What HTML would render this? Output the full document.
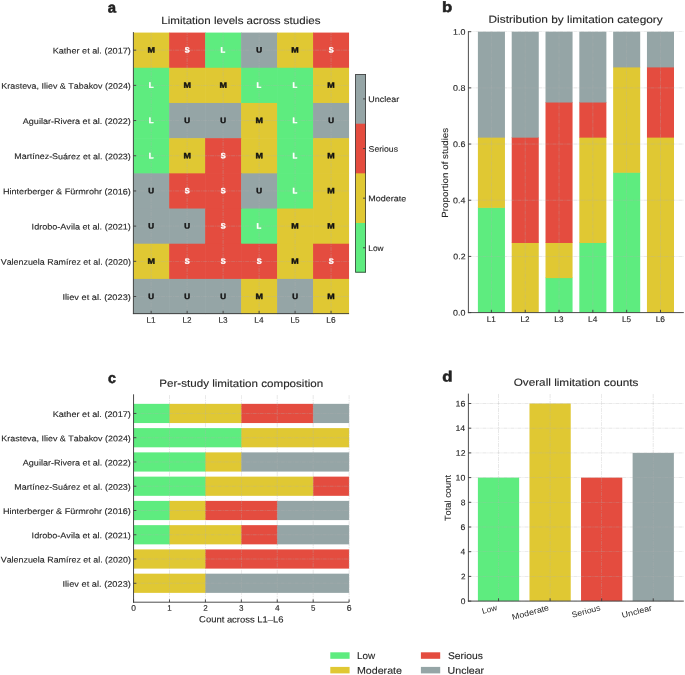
<!DOCTYPE html>
<html><head><meta charset="utf-8"><style>
html,body{margin:0;padding:0;background:#fff;}
svg{display:block;font-family:"Liberation Sans",sans-serif;will-change:transform;font-kerning:none;}
</style></head><body>
<svg width="685" height="675" viewBox="0 0 685 675">
<rect width="685" height="675" fill="#fff"/>
<rect x="133.17" y="32.58" width="36.58" height="35.79" fill="#e0c833"/>
<rect x="169.15" y="32.58" width="36.58" height="35.79" fill="#e44c3f"/>
<rect x="205.13" y="32.58" width="36.58" height="35.79" fill="#5eec7f"/>
<rect x="241.11" y="32.58" width="36.58" height="35.79" fill="#95a5a6"/>
<rect x="277.09" y="32.58" width="36.58" height="35.79" fill="#e0c833"/>
<rect x="313.07" y="32.58" width="35.98" height="35.79" fill="#e44c3f"/>
<rect x="133.17" y="67.77" width="36.58" height="35.79" fill="#5eec7f"/>
<rect x="169.15" y="67.77" width="36.58" height="35.79" fill="#e0c833"/>
<rect x="205.13" y="67.77" width="36.58" height="35.79" fill="#e0c833"/>
<rect x="241.11" y="67.77" width="36.58" height="35.79" fill="#5eec7f"/>
<rect x="277.09" y="67.77" width="36.58" height="35.79" fill="#5eec7f"/>
<rect x="313.07" y="67.77" width="35.98" height="35.79" fill="#e0c833"/>
<rect x="133.17" y="102.96" width="36.58" height="35.79" fill="#5eec7f"/>
<rect x="169.15" y="102.96" width="36.58" height="35.79" fill="#95a5a6"/>
<rect x="205.13" y="102.96" width="36.58" height="35.79" fill="#95a5a6"/>
<rect x="241.11" y="102.96" width="36.58" height="35.79" fill="#e0c833"/>
<rect x="277.09" y="102.96" width="36.58" height="35.79" fill="#5eec7f"/>
<rect x="313.07" y="102.96" width="35.98" height="35.79" fill="#95a5a6"/>
<rect x="133.17" y="138.15" width="36.58" height="35.79" fill="#5eec7f"/>
<rect x="169.15" y="138.15" width="36.58" height="35.79" fill="#e0c833"/>
<rect x="205.13" y="138.15" width="36.58" height="35.79" fill="#e44c3f"/>
<rect x="241.11" y="138.15" width="36.58" height="35.79" fill="#e0c833"/>
<rect x="277.09" y="138.15" width="36.58" height="35.79" fill="#5eec7f"/>
<rect x="313.07" y="138.15" width="35.98" height="35.79" fill="#e0c833"/>
<rect x="133.17" y="173.34" width="36.58" height="35.79" fill="#95a5a6"/>
<rect x="169.15" y="173.34" width="36.58" height="35.79" fill="#e44c3f"/>
<rect x="205.13" y="173.34" width="36.58" height="35.79" fill="#e44c3f"/>
<rect x="241.11" y="173.34" width="36.58" height="35.79" fill="#95a5a6"/>
<rect x="277.09" y="173.34" width="36.58" height="35.79" fill="#5eec7f"/>
<rect x="313.07" y="173.34" width="35.98" height="35.79" fill="#e0c833"/>
<rect x="133.17" y="208.53" width="36.58" height="35.79" fill="#95a5a6"/>
<rect x="169.15" y="208.53" width="36.58" height="35.79" fill="#95a5a6"/>
<rect x="205.13" y="208.53" width="36.58" height="35.79" fill="#e44c3f"/>
<rect x="241.11" y="208.53" width="36.58" height="35.79" fill="#5eec7f"/>
<rect x="277.09" y="208.53" width="36.58" height="35.79" fill="#e0c833"/>
<rect x="313.07" y="208.53" width="35.98" height="35.79" fill="#e0c833"/>
<rect x="133.17" y="243.72" width="36.58" height="35.79" fill="#e0c833"/>
<rect x="169.15" y="243.72" width="36.58" height="35.79" fill="#e44c3f"/>
<rect x="205.13" y="243.72" width="36.58" height="35.79" fill="#e44c3f"/>
<rect x="241.11" y="243.72" width="36.58" height="35.79" fill="#e44c3f"/>
<rect x="277.09" y="243.72" width="36.58" height="35.79" fill="#e0c833"/>
<rect x="313.07" y="243.72" width="35.98" height="35.79" fill="#e44c3f"/>
<rect x="133.17" y="278.91" width="36.58" height="35.19" fill="#95a5a6"/>
<rect x="169.15" y="278.91" width="36.58" height="35.19" fill="#95a5a6"/>
<rect x="205.13" y="278.91" width="36.58" height="35.19" fill="#95a5a6"/>
<rect x="241.11" y="278.91" width="36.58" height="35.19" fill="#e0c833"/>
<rect x="277.09" y="278.91" width="36.58" height="35.19" fill="#95a5a6"/>
<rect x="313.07" y="278.91" width="35.98" height="35.19" fill="#e0c833"/>
<line x1="151.16" y1="314.10" x2="151.16" y2="32.58" stroke="#b0b0b0" stroke-width="0.6" stroke-dasharray="4.1 0.9 1.2 0.8" opacity="0.5"/>
<line x1="187.14" y1="314.10" x2="187.14" y2="32.58" stroke="#b0b0b0" stroke-width="0.6" stroke-dasharray="4.1 0.9 1.2 0.8" opacity="0.5"/>
<line x1="223.12" y1="314.10" x2="223.12" y2="32.58" stroke="#b0b0b0" stroke-width="0.6" stroke-dasharray="4.1 0.9 1.2 0.8" opacity="0.5"/>
<line x1="259.10" y1="314.10" x2="259.10" y2="32.58" stroke="#b0b0b0" stroke-width="0.6" stroke-dasharray="4.1 0.9 1.2 0.8" opacity="0.5"/>
<line x1="295.08" y1="314.10" x2="295.08" y2="32.58" stroke="#b0b0b0" stroke-width="0.6" stroke-dasharray="4.1 0.9 1.2 0.8" opacity="0.5"/>
<line x1="331.06" y1="314.10" x2="331.06" y2="32.58" stroke="#b0b0b0" stroke-width="0.6" stroke-dasharray="4.1 0.9 1.2 0.8" opacity="0.5"/>
<line x1="133.17" y1="50.17" x2="349.05" y2="50.17" stroke="#b0b0b0" stroke-width="0.6" stroke-dasharray="4.1 0.9 1.2 0.8" opacity="0.5"/>
<line x1="133.17" y1="85.37" x2="349.05" y2="85.37" stroke="#b0b0b0" stroke-width="0.6" stroke-dasharray="4.1 0.9 1.2 0.8" opacity="0.5"/>
<line x1="133.17" y1="120.56" x2="349.05" y2="120.56" stroke="#b0b0b0" stroke-width="0.6" stroke-dasharray="4.1 0.9 1.2 0.8" opacity="0.5"/>
<line x1="133.17" y1="155.75" x2="349.05" y2="155.75" stroke="#b0b0b0" stroke-width="0.6" stroke-dasharray="4.1 0.9 1.2 0.8" opacity="0.5"/>
<line x1="133.17" y1="190.94" x2="349.05" y2="190.94" stroke="#b0b0b0" stroke-width="0.6" stroke-dasharray="4.1 0.9 1.2 0.8" opacity="0.5"/>
<line x1="133.17" y1="226.12" x2="349.05" y2="226.12" stroke="#b0b0b0" stroke-width="0.6" stroke-dasharray="4.1 0.9 1.2 0.8" opacity="0.5"/>
<line x1="133.17" y1="261.32" x2="349.05" y2="261.32" stroke="#b0b0b0" stroke-width="0.6" stroke-dasharray="4.1 0.9 1.2 0.8" opacity="0.5"/>
<line x1="133.17" y1="296.50" x2="349.05" y2="296.50" stroke="#b0b0b0" stroke-width="0.6" stroke-dasharray="4.1 0.9 1.2 0.8" opacity="0.5"/>
<text transform="matrix(1,0.001,0,1,147.44,52.571)" font-size="7.70" font-weight="bold" stroke="#111111" stroke-width="0.4" fill="#111111" textLength="7.44" lengthAdjust="spacingAndGlyphs">M</text>
<text transform="matrix(1,0.001,0,1,184.71,52.573)" font-size="7.70" font-weight="bold" stroke="#ffffff" stroke-width="0.4" fill="#ffffff" textLength="4.93" lengthAdjust="spacingAndGlyphs">S</text>
<text transform="matrix(1,0.001,0,1,220.61,52.573)" font-size="7.70" font-weight="bold" stroke="#ffffff" stroke-width="0.4" fill="#ffffff" textLength="4.75" lengthAdjust="spacingAndGlyphs">L</text>
<text transform="matrix(1,0.001,0,1,256.20,52.572)" font-size="7.70" font-weight="bold" stroke="#111111" stroke-width="0.4" fill="#111111" textLength="5.81" lengthAdjust="spacingAndGlyphs">U</text>
<text transform="matrix(1,0.001,0,1,291.36,52.571)" font-size="7.70" font-weight="bold" stroke="#111111" stroke-width="0.4" fill="#111111" textLength="7.44" lengthAdjust="spacingAndGlyphs">M</text>
<text transform="matrix(1,0.001,0,1,328.63,52.573)" font-size="7.70" font-weight="bold" stroke="#ffffff" stroke-width="0.4" fill="#ffffff" textLength="4.93" lengthAdjust="spacingAndGlyphs">S</text>
<text transform="matrix(1,0.001,0,1,148.65,87.763)" font-size="7.70" font-weight="bold" stroke="#ffffff" stroke-width="0.4" fill="#ffffff" textLength="4.75" lengthAdjust="spacingAndGlyphs">L</text>
<text transform="matrix(1,0.001,0,1,183.42,87.761)" font-size="7.70" font-weight="bold" stroke="#111111" stroke-width="0.4" fill="#111111" textLength="7.44" lengthAdjust="spacingAndGlyphs">M</text>
<text transform="matrix(1,0.001,0,1,219.40,87.761)" font-size="7.70" font-weight="bold" stroke="#111111" stroke-width="0.4" fill="#111111" textLength="7.44" lengthAdjust="spacingAndGlyphs">M</text>
<text transform="matrix(1,0.001,0,1,256.59,87.763)" font-size="7.70" font-weight="bold" stroke="#ffffff" stroke-width="0.4" fill="#ffffff" textLength="4.75" lengthAdjust="spacingAndGlyphs">L</text>
<text transform="matrix(1,0.001,0,1,292.57,87.763)" font-size="7.70" font-weight="bold" stroke="#ffffff" stroke-width="0.4" fill="#ffffff" textLength="4.75" lengthAdjust="spacingAndGlyphs">L</text>
<text transform="matrix(1,0.001,0,1,327.34,87.761)" font-size="7.70" font-weight="bold" stroke="#111111" stroke-width="0.4" fill="#111111" textLength="7.44" lengthAdjust="spacingAndGlyphs">M</text>
<text transform="matrix(1,0.001,0,1,148.65,122.953)" font-size="7.70" font-weight="bold" stroke="#ffffff" stroke-width="0.4" fill="#ffffff" textLength="4.75" lengthAdjust="spacingAndGlyphs">L</text>
<text transform="matrix(1,0.001,0,1,184.24,122.952)" font-size="7.70" font-weight="bold" stroke="#111111" stroke-width="0.4" fill="#111111" textLength="5.81" lengthAdjust="spacingAndGlyphs">U</text>
<text transform="matrix(1,0.001,0,1,220.22,122.952)" font-size="7.70" font-weight="bold" stroke="#111111" stroke-width="0.4" fill="#111111" textLength="5.81" lengthAdjust="spacingAndGlyphs">U</text>
<text transform="matrix(1,0.001,0,1,255.38,122.951)" font-size="7.70" font-weight="bold" stroke="#111111" stroke-width="0.4" fill="#111111" textLength="7.44" lengthAdjust="spacingAndGlyphs">M</text>
<text transform="matrix(1,0.001,0,1,292.57,122.953)" font-size="7.70" font-weight="bold" stroke="#ffffff" stroke-width="0.4" fill="#ffffff" textLength="4.75" lengthAdjust="spacingAndGlyphs">L</text>
<text transform="matrix(1,0.001,0,1,328.16,122.952)" font-size="7.70" font-weight="bold" stroke="#111111" stroke-width="0.4" fill="#111111" textLength="5.81" lengthAdjust="spacingAndGlyphs">U</text>
<text transform="matrix(1,0.001,0,1,148.65,158.143)" font-size="7.70" font-weight="bold" stroke="#ffffff" stroke-width="0.4" fill="#ffffff" textLength="4.75" lengthAdjust="spacingAndGlyphs">L</text>
<text transform="matrix(1,0.001,0,1,183.42,158.141)" font-size="7.70" font-weight="bold" stroke="#111111" stroke-width="0.4" fill="#111111" textLength="7.44" lengthAdjust="spacingAndGlyphs">M</text>
<text transform="matrix(1,0.001,0,1,220.69,158.143)" font-size="7.70" font-weight="bold" stroke="#ffffff" stroke-width="0.4" fill="#ffffff" textLength="4.93" lengthAdjust="spacingAndGlyphs">S</text>
<text transform="matrix(1,0.001,0,1,255.38,158.141)" font-size="7.70" font-weight="bold" stroke="#111111" stroke-width="0.4" fill="#111111" textLength="7.44" lengthAdjust="spacingAndGlyphs">M</text>
<text transform="matrix(1,0.001,0,1,292.57,158.143)" font-size="7.70" font-weight="bold" stroke="#ffffff" stroke-width="0.4" fill="#ffffff" textLength="4.75" lengthAdjust="spacingAndGlyphs">L</text>
<text transform="matrix(1,0.001,0,1,327.34,158.141)" font-size="7.70" font-weight="bold" stroke="#111111" stroke-width="0.4" fill="#111111" textLength="7.44" lengthAdjust="spacingAndGlyphs">M</text>
<text transform="matrix(1,0.001,0,1,148.26,193.332)" font-size="7.70" font-weight="bold" stroke="#111111" stroke-width="0.4" fill="#111111" textLength="5.81" lengthAdjust="spacingAndGlyphs">U</text>
<text transform="matrix(1,0.001,0,1,184.71,193.333)" font-size="7.70" font-weight="bold" stroke="#ffffff" stroke-width="0.4" fill="#ffffff" textLength="4.93" lengthAdjust="spacingAndGlyphs">S</text>
<text transform="matrix(1,0.001,0,1,220.69,193.333)" font-size="7.70" font-weight="bold" stroke="#ffffff" stroke-width="0.4" fill="#ffffff" textLength="4.93" lengthAdjust="spacingAndGlyphs">S</text>
<text transform="matrix(1,0.001,0,1,256.20,193.332)" font-size="7.70" font-weight="bold" stroke="#111111" stroke-width="0.4" fill="#111111" textLength="5.81" lengthAdjust="spacingAndGlyphs">U</text>
<text transform="matrix(1,0.001,0,1,292.57,193.333)" font-size="7.70" font-weight="bold" stroke="#ffffff" stroke-width="0.4" fill="#ffffff" textLength="4.75" lengthAdjust="spacingAndGlyphs">L</text>
<text transform="matrix(1,0.001,0,1,327.34,193.331)" font-size="7.70" font-weight="bold" stroke="#111111" stroke-width="0.4" fill="#111111" textLength="7.44" lengthAdjust="spacingAndGlyphs">M</text>
<text transform="matrix(1,0.001,0,1,148.26,228.522)" font-size="7.70" font-weight="bold" stroke="#111111" stroke-width="0.4" fill="#111111" textLength="5.81" lengthAdjust="spacingAndGlyphs">U</text>
<text transform="matrix(1,0.001,0,1,184.24,228.522)" font-size="7.70" font-weight="bold" stroke="#111111" stroke-width="0.4" fill="#111111" textLength="5.81" lengthAdjust="spacingAndGlyphs">U</text>
<text transform="matrix(1,0.001,0,1,220.69,228.523)" font-size="7.70" font-weight="bold" stroke="#ffffff" stroke-width="0.4" fill="#ffffff" textLength="4.93" lengthAdjust="spacingAndGlyphs">S</text>
<text transform="matrix(1,0.001,0,1,256.59,228.523)" font-size="7.70" font-weight="bold" stroke="#ffffff" stroke-width="0.4" fill="#ffffff" textLength="4.75" lengthAdjust="spacingAndGlyphs">L</text>
<text transform="matrix(1,0.001,0,1,291.36,228.521)" font-size="7.70" font-weight="bold" stroke="#111111" stroke-width="0.4" fill="#111111" textLength="7.44" lengthAdjust="spacingAndGlyphs">M</text>
<text transform="matrix(1,0.001,0,1,327.34,228.521)" font-size="7.70" font-weight="bold" stroke="#111111" stroke-width="0.4" fill="#111111" textLength="7.44" lengthAdjust="spacingAndGlyphs">M</text>
<text transform="matrix(1,0.001,0,1,147.44,263.711)" font-size="7.70" font-weight="bold" stroke="#111111" stroke-width="0.4" fill="#111111" textLength="7.44" lengthAdjust="spacingAndGlyphs">M</text>
<text transform="matrix(1,0.001,0,1,184.71,263.713)" font-size="7.70" font-weight="bold" stroke="#ffffff" stroke-width="0.4" fill="#ffffff" textLength="4.93" lengthAdjust="spacingAndGlyphs">S</text>
<text transform="matrix(1,0.001,0,1,220.69,263.713)" font-size="7.70" font-weight="bold" stroke="#ffffff" stroke-width="0.4" fill="#ffffff" textLength="4.93" lengthAdjust="spacingAndGlyphs">S</text>
<text transform="matrix(1,0.001,0,1,256.67,263.713)" font-size="7.70" font-weight="bold" stroke="#ffffff" stroke-width="0.4" fill="#ffffff" textLength="4.93" lengthAdjust="spacingAndGlyphs">S</text>
<text transform="matrix(1,0.001,0,1,291.36,263.711)" font-size="7.70" font-weight="bold" stroke="#111111" stroke-width="0.4" fill="#111111" textLength="7.44" lengthAdjust="spacingAndGlyphs">M</text>
<text transform="matrix(1,0.001,0,1,328.63,263.713)" font-size="7.70" font-weight="bold" stroke="#ffffff" stroke-width="0.4" fill="#ffffff" textLength="4.93" lengthAdjust="spacingAndGlyphs">S</text>
<text transform="matrix(1,0.001,0,1,148.26,298.902)" font-size="7.70" font-weight="bold" stroke="#111111" stroke-width="0.4" fill="#111111" textLength="5.81" lengthAdjust="spacingAndGlyphs">U</text>
<text transform="matrix(1,0.001,0,1,184.24,298.902)" font-size="7.70" font-weight="bold" stroke="#111111" stroke-width="0.4" fill="#111111" textLength="5.81" lengthAdjust="spacingAndGlyphs">U</text>
<text transform="matrix(1,0.001,0,1,220.22,298.902)" font-size="7.70" font-weight="bold" stroke="#111111" stroke-width="0.4" fill="#111111" textLength="5.81" lengthAdjust="spacingAndGlyphs">U</text>
<text transform="matrix(1,0.001,0,1,255.38,298.901)" font-size="7.70" font-weight="bold" stroke="#111111" stroke-width="0.4" fill="#111111" textLength="7.44" lengthAdjust="spacingAndGlyphs">M</text>
<text transform="matrix(1,0.001,0,1,292.18,298.902)" font-size="7.70" font-weight="bold" stroke="#111111" stroke-width="0.4" fill="#111111" textLength="5.81" lengthAdjust="spacingAndGlyphs">U</text>
<text transform="matrix(1,0.001,0,1,327.34,298.901)" font-size="7.70" font-weight="bold" stroke="#111111" stroke-width="0.4" fill="#111111" textLength="7.44" lengthAdjust="spacingAndGlyphs">M</text>
<line x1="133.40" y1="32.08" x2="133.40" y2="314.05" stroke="#3a3a3a" stroke-width="0.9"/>
<line x1="132.95" y1="313.60" x2="349.05" y2="313.60" stroke="#3a3a3a" stroke-width="0.9"/>
<line x1="133.40" y1="50.17" x2="136.20" y2="50.17" stroke="#3a3a3a" stroke-width="0.9"/>
<text transform="matrix(1,0.001,0,1,52.64,53.536)" font-size="8.16" stroke="#262626" stroke-width="0.12" fill="#262626" textLength="78.23" lengthAdjust="spacingAndGlyphs">Kather et al. (2017)</text>
<line x1="133.40" y1="85.37" x2="136.20" y2="85.37" stroke="#3a3a3a" stroke-width="0.9"/>
<text transform="matrix(1,0.001,0,1,1.30,88.700)" font-size="8.16" stroke="#262626" stroke-width="0.12" fill="#262626" textLength="129.55" lengthAdjust="spacingAndGlyphs">Krasteva, Iliev &amp; Tabakov (2024)</text>
<line x1="133.40" y1="120.56" x2="136.20" y2="120.56" stroke="#3a3a3a" stroke-width="0.9"/>
<text transform="matrix(1,0.001,0,1,22.81,123.901)" font-size="8.16" stroke="#262626" stroke-width="0.12" fill="#262626" textLength="108.05" lengthAdjust="spacingAndGlyphs">Aguilar-Rivera et al. (2022)</text>
<line x1="133.40" y1="155.75" x2="136.20" y2="155.75" stroke="#3a3a3a" stroke-width="0.9"/>
<text transform="matrix(1,0.001,0,1,14.27,159.087)" font-size="8.16" stroke="#262626" stroke-width="0.12" fill="#262626" textLength="116.59" lengthAdjust="spacingAndGlyphs">Martínez-Suárez et al. (2023)</text>
<line x1="133.40" y1="190.94" x2="136.20" y2="190.94" stroke="#3a3a3a" stroke-width="0.9"/>
<text transform="matrix(1,0.001,0,1,2.93,194.271)" font-size="8.16" stroke="#262626" stroke-width="0.12" fill="#262626" textLength="127.94" lengthAdjust="spacingAndGlyphs">Hinterberger &amp; Fürmrohr (2016)</text>
<line x1="133.40" y1="226.12" x2="136.20" y2="226.12" stroke="#3a3a3a" stroke-width="0.9"/>
<text transform="matrix(1,0.001,0,1,31.62,229.475)" font-size="8.16" stroke="#262626" stroke-width="0.12" fill="#262626" textLength="99.24" lengthAdjust="spacingAndGlyphs">Idrobo-Avila et al. (2021)</text>
<line x1="133.40" y1="261.32" x2="136.20" y2="261.32" stroke="#3a3a3a" stroke-width="0.9"/>
<text transform="matrix(1,0.001,0,1,0.70,264.650)" font-size="8.16" stroke="#262626" stroke-width="0.12" fill="#262626" textLength="130.15" lengthAdjust="spacingAndGlyphs">Valenzuela Ramírez et al. (2020)</text>
<line x1="133.40" y1="296.50" x2="136.20" y2="296.50" stroke="#3a3a3a" stroke-width="0.9"/>
<text transform="matrix(1,0.001,0,1,62.50,299.871)" font-size="8.16" stroke="#262626" stroke-width="0.12" fill="#262626" textLength="68.37" lengthAdjust="spacingAndGlyphs">Iliev et al. (2023)</text>
<line x1="151.16" y1="313.60" x2="151.16" y2="310.80" stroke="#3a3a3a" stroke-width="0.9"/>
<text transform="matrix(1,0.001,0,1,146.48,322.695)" font-size="8.16" stroke="#262626" stroke-width="0.12" fill="#262626" textLength="9.09" lengthAdjust="spacingAndGlyphs">L1</text>
<line x1="187.14" y1="313.60" x2="187.14" y2="310.80" stroke="#3a3a3a" stroke-width="0.9"/>
<text transform="matrix(1,0.001,0,1,182.49,322.695)" font-size="8.16" stroke="#262626" stroke-width="0.12" fill="#262626" textLength="9.04" lengthAdjust="spacingAndGlyphs">L2</text>
<line x1="223.12" y1="313.60" x2="223.12" y2="310.80" stroke="#3a3a3a" stroke-width="0.9"/>
<text transform="matrix(1,0.001,0,1,218.38,322.695)" font-size="8.16" stroke="#262626" stroke-width="0.12" fill="#262626" textLength="9.16" lengthAdjust="spacingAndGlyphs">L3</text>
<line x1="259.10" y1="313.60" x2="259.10" y2="310.80" stroke="#3a3a3a" stroke-width="0.9"/>
<text transform="matrix(1,0.001,0,1,254.26,322.695)" font-size="8.16" stroke="#262626" stroke-width="0.12" fill="#262626" textLength="9.24" lengthAdjust="spacingAndGlyphs">L4</text>
<line x1="295.08" y1="313.60" x2="295.08" y2="310.80" stroke="#3a3a3a" stroke-width="0.9"/>
<text transform="matrix(1,0.001,0,1,290.38,322.695)" font-size="8.16" stroke="#262626" stroke-width="0.12" fill="#262626" textLength="9.08" lengthAdjust="spacingAndGlyphs">L5</text>
<line x1="331.06" y1="313.60" x2="331.06" y2="310.80" stroke="#3a3a3a" stroke-width="0.9"/>
<text transform="matrix(1,0.001,0,1,326.24,322.695)" font-size="8.16" stroke="#262626" stroke-width="0.12" fill="#262626" textLength="9.31" lengthAdjust="spacingAndGlyphs">L6</text>
<text transform="matrix(1,0.001,0,1,161.28,23.920)" font-size="10.37" stroke="#262626" stroke-width="0.12" fill="#262626" textLength="159.14" lengthAdjust="spacingAndGlyphs">Limitation levels across studies</text>
<text transform="matrix(1,0.001,0,1,107.76,12.396)" font-size="14.69" font-weight="bold" stroke="#222" stroke-width="0.5" fill="#222" textLength="8.31" lengthAdjust="spacingAndGlyphs">a</text>
<rect x="355.20" y="74.10" width="10.80" height="50.23" fill="#95a5a6"/>
<rect x="355.20" y="123.72" width="10.80" height="50.23" fill="#e44c3f"/>
<rect x="355.20" y="173.35" width="10.80" height="50.23" fill="#e0c833"/>
<rect x="355.20" y="222.98" width="10.80" height="49.63" fill="#5eec7f"/>
<rect x="355.60" y="74.50" width="10.00" height="197.70" fill="none" stroke="#3a3a3a" stroke-width="0.8"/>
<line x1="365.60" y1="98.91" x2="363.00" y2="98.91" stroke="#3a3a3a" stroke-width="0.9"/>
<text transform="matrix(1,0.001,0,1,368.31,102.097)" font-size="8.16" stroke="#262626" stroke-width="0.12" fill="#262626" textLength="30.80" lengthAdjust="spacingAndGlyphs">Unclear</text>
<line x1="365.60" y1="148.54" x2="363.00" y2="148.54" stroke="#3a3a3a" stroke-width="0.9"/>
<text transform="matrix(1,0.001,0,1,368.61,151.723)" font-size="8.16" stroke="#262626" stroke-width="0.12" fill="#262626" textLength="29.43" lengthAdjust="spacingAndGlyphs">Serious</text>
<line x1="365.60" y1="198.16" x2="363.00" y2="198.16" stroke="#3a3a3a" stroke-width="0.9"/>
<text transform="matrix(1,0.001,0,1,368.26,201.344)" font-size="8.16" stroke="#262626" stroke-width="0.12" fill="#262626" textLength="37.97" lengthAdjust="spacingAndGlyphs">Moderate</text>
<line x1="365.60" y1="247.79" x2="363.00" y2="247.79" stroke="#3a3a3a" stroke-width="0.9"/>
<text transform="matrix(1,0.001,0,1,368.32,250.980)" font-size="8.16" stroke="#262626" stroke-width="0.12" fill="#262626" textLength="15.30" lengthAdjust="spacingAndGlyphs">Low</text>
<rect x="477.90" y="207.26" width="27.05" height="105.34" fill="#5eec7f"/>
<rect x="477.90" y="137.04" width="27.05" height="70.83" fill="#e0c833"/>
<rect x="477.90" y="31.70" width="27.05" height="105.94" fill="#95a5a6"/>
<rect x="511.71" y="242.38" width="27.05" height="70.23" fill="#e0c833"/>
<rect x="511.71" y="137.04" width="27.05" height="105.94" fill="#e44c3f"/>
<rect x="511.71" y="31.70" width="27.05" height="105.94" fill="#95a5a6"/>
<rect x="545.51" y="277.49" width="27.05" height="35.11" fill="#5eec7f"/>
<rect x="545.51" y="242.38" width="27.05" height="35.71" fill="#e0c833"/>
<rect x="545.51" y="101.93" width="27.05" height="141.05" fill="#e44c3f"/>
<rect x="545.51" y="31.70" width="27.05" height="70.83" fill="#95a5a6"/>
<rect x="579.33" y="242.38" width="27.05" height="70.23" fill="#5eec7f"/>
<rect x="579.33" y="137.04" width="27.05" height="105.94" fill="#e0c833"/>
<rect x="579.33" y="101.93" width="27.05" height="35.71" fill="#e44c3f"/>
<rect x="579.33" y="31.70" width="27.05" height="70.83" fill="#95a5a6"/>
<rect x="613.14" y="172.15" width="27.05" height="140.45" fill="#5eec7f"/>
<rect x="613.14" y="66.81" width="27.05" height="105.94" fill="#e0c833"/>
<rect x="613.14" y="31.70" width="27.05" height="35.71" fill="#95a5a6"/>
<rect x="646.95" y="137.04" width="27.05" height="175.56" fill="#e0c833"/>
<rect x="646.95" y="66.81" width="27.05" height="70.82" fill="#e44c3f"/>
<rect x="646.95" y="31.70" width="27.05" height="35.71" fill="#95a5a6"/>
<line x1="491.42" y1="312.60" x2="491.42" y2="31.70" stroke="#b0b0b0" stroke-width="0.6" stroke-dasharray="4.1 0.9 1.2 0.8" opacity="0.5"/>
<line x1="525.23" y1="312.60" x2="525.23" y2="31.70" stroke="#b0b0b0" stroke-width="0.6" stroke-dasharray="4.1 0.9 1.2 0.8" opacity="0.5"/>
<line x1="559.04" y1="312.60" x2="559.04" y2="31.70" stroke="#b0b0b0" stroke-width="0.6" stroke-dasharray="4.1 0.9 1.2 0.8" opacity="0.5"/>
<line x1="592.85" y1="312.60" x2="592.85" y2="31.70" stroke="#b0b0b0" stroke-width="0.6" stroke-dasharray="4.1 0.9 1.2 0.8" opacity="0.5"/>
<line x1="626.66" y1="312.60" x2="626.66" y2="31.70" stroke="#b0b0b0" stroke-width="0.6" stroke-dasharray="4.1 0.9 1.2 0.8" opacity="0.5"/>
<line x1="660.47" y1="312.60" x2="660.47" y2="31.70" stroke="#b0b0b0" stroke-width="0.6" stroke-dasharray="4.1 0.9 1.2 0.8" opacity="0.5"/>
<line x1="468.40" y1="312.60" x2="683.80" y2="312.60" stroke="#b0b0b0" stroke-width="0.6" stroke-dasharray="4.1 0.9 1.2 0.8" opacity="0.5"/>
<line x1="468.40" y1="256.42" x2="683.80" y2="256.42" stroke="#b0b0b0" stroke-width="0.6" stroke-dasharray="4.1 0.9 1.2 0.8" opacity="0.5"/>
<line x1="468.40" y1="200.24" x2="683.80" y2="200.24" stroke="#b0b0b0" stroke-width="0.6" stroke-dasharray="4.1 0.9 1.2 0.8" opacity="0.5"/>
<line x1="468.40" y1="144.06" x2="683.80" y2="144.06" stroke="#b0b0b0" stroke-width="0.6" stroke-dasharray="4.1 0.9 1.2 0.8" opacity="0.5"/>
<line x1="468.40" y1="87.88" x2="683.80" y2="87.88" stroke="#b0b0b0" stroke-width="0.6" stroke-dasharray="4.1 0.9 1.2 0.8" opacity="0.5"/>
<line x1="468.40" y1="31.70" x2="683.80" y2="31.70" stroke="#b0b0b0" stroke-width="0.6" stroke-dasharray="4.1 0.9 1.2 0.8" opacity="0.5"/>
<line x1="468.40" y1="31.20" x2="468.40" y2="313.10" stroke="#3a3a3a" stroke-width="0.9"/>
<line x1="467.95" y1="312.60" x2="683.80" y2="312.60" stroke="#3a3a3a" stroke-width="0.9"/>
<line x1="468.40" y1="312.60" x2="471.20" y2="312.60" stroke="#3a3a3a" stroke-width="0.9"/>
<text transform="matrix(1,0.001,0,1,453.09,315.544)" font-size="8.16" stroke="#262626" stroke-width="0.12" fill="#262626" textLength="12.36" lengthAdjust="spacingAndGlyphs">0.0</text>
<line x1="468.40" y1="256.42" x2="471.20" y2="256.42" stroke="#3a3a3a" stroke-width="0.9"/>
<text transform="matrix(1,0.001,0,1,453.36,259.364)" font-size="8.16" stroke="#262626" stroke-width="0.12" fill="#262626" textLength="12.18" lengthAdjust="spacingAndGlyphs">0.2</text>
<line x1="468.40" y1="200.24" x2="471.20" y2="200.24" stroke="#3a3a3a" stroke-width="0.9"/>
<text transform="matrix(1,0.001,0,1,453.01,203.184)" font-size="8.16" stroke="#262626" stroke-width="0.12" fill="#262626" textLength="12.35" lengthAdjust="spacingAndGlyphs">0.4</text>
<line x1="468.40" y1="144.06" x2="471.20" y2="144.06" stroke="#3a3a3a" stroke-width="0.9"/>
<text transform="matrix(1,0.001,0,1,453.06,147.004)" font-size="8.16" stroke="#262626" stroke-width="0.12" fill="#262626" textLength="12.43" lengthAdjust="spacingAndGlyphs">0.6</text>
<line x1="468.40" y1="87.88" x2="471.20" y2="87.88" stroke="#3a3a3a" stroke-width="0.9"/>
<text transform="matrix(1,0.001,0,1,453.10,90.824)" font-size="8.16" stroke="#262626" stroke-width="0.12" fill="#262626" textLength="12.38" lengthAdjust="spacingAndGlyphs">0.8</text>
<line x1="468.40" y1="31.70" x2="471.20" y2="31.70" stroke="#3a3a3a" stroke-width="0.9"/>
<text transform="matrix(1,0.001,0,1,453.11,34.644)" font-size="8.16" stroke="#262626" stroke-width="0.12" fill="#262626" textLength="12.34" lengthAdjust="spacingAndGlyphs">1.0</text>
<line x1="491.42" y1="312.60" x2="491.42" y2="309.80" stroke="#3a3a3a" stroke-width="0.9"/>
<text transform="matrix(1,0.001,0,1,486.74,321.895)" font-size="8.16" stroke="#262626" stroke-width="0.12" fill="#262626" textLength="9.09" lengthAdjust="spacingAndGlyphs">L1</text>
<line x1="525.23" y1="312.60" x2="525.23" y2="309.80" stroke="#3a3a3a" stroke-width="0.9"/>
<text transform="matrix(1,0.001,0,1,520.58,321.895)" font-size="8.16" stroke="#262626" stroke-width="0.12" fill="#262626" textLength="9.04" lengthAdjust="spacingAndGlyphs">L2</text>
<line x1="559.04" y1="312.60" x2="559.04" y2="309.80" stroke="#3a3a3a" stroke-width="0.9"/>
<text transform="matrix(1,0.001,0,1,554.30,321.895)" font-size="8.16" stroke="#262626" stroke-width="0.12" fill="#262626" textLength="9.16" lengthAdjust="spacingAndGlyphs">L3</text>
<line x1="592.85" y1="312.60" x2="592.85" y2="309.80" stroke="#3a3a3a" stroke-width="0.9"/>
<text transform="matrix(1,0.001,0,1,588.01,321.895)" font-size="8.16" stroke="#262626" stroke-width="0.12" fill="#262626" textLength="9.24" lengthAdjust="spacingAndGlyphs">L4</text>
<line x1="626.66" y1="312.60" x2="626.66" y2="309.80" stroke="#3a3a3a" stroke-width="0.9"/>
<text transform="matrix(1,0.001,0,1,621.96,321.895)" font-size="8.16" stroke="#262626" stroke-width="0.12" fill="#262626" textLength="9.08" lengthAdjust="spacingAndGlyphs">L5</text>
<line x1="660.47" y1="312.60" x2="660.47" y2="309.80" stroke="#3a3a3a" stroke-width="0.9"/>
<text transform="matrix(1,0.001,0,1,655.65,321.895)" font-size="8.16" stroke="#262626" stroke-width="0.12" fill="#262626" textLength="9.31" lengthAdjust="spacingAndGlyphs">L6</text>
<text transform="matrix(1,0.001,0,1,488.51,22.813)" font-size="10.37" stroke="#262626" stroke-width="0.12" fill="#262626" textLength="174.23" lengthAdjust="spacingAndGlyphs">Distribution by limitation category</text>
<text transform="matrix(1,0.001,0,1,441.99,11.995)" font-size="14.69" font-weight="bold" stroke="#222" stroke-width="0.5" fill="#222" textLength="10.24" lengthAdjust="spacingAndGlyphs">b</text>
<text transform="translate(448.00,216.90) rotate(-90) matrix(1,0.001,0,1,0,-0.045)" x="-0.80" y="0" font-size="8.86" stroke="#262626" stroke-width="0.12" fill="#262626" textLength="89.86" lengthAdjust="spacingAndGlyphs">Proportion of studies</text>
<rect x="133.55" y="403.85" width="36.53" height="19.20" fill="#5eec7f"/>
<rect x="169.48" y="403.85" width="72.45" height="19.20" fill="#e0c833"/>
<rect x="241.33" y="403.85" width="72.45" height="19.20" fill="#e44c3f"/>
<rect x="313.18" y="403.85" width="35.93" height="19.20" fill="#95a5a6"/>
<rect x="133.55" y="428.11" width="108.38" height="19.20" fill="#5eec7f"/>
<rect x="241.33" y="428.11" width="107.78" height="19.20" fill="#e0c833"/>
<rect x="133.55" y="452.37" width="72.45" height="19.20" fill="#5eec7f"/>
<rect x="205.40" y="452.37" width="36.53" height="19.20" fill="#e0c833"/>
<rect x="241.33" y="452.37" width="107.78" height="19.20" fill="#95a5a6"/>
<rect x="133.55" y="476.63" width="72.45" height="19.20" fill="#5eec7f"/>
<rect x="205.40" y="476.63" width="108.38" height="19.20" fill="#e0c833"/>
<rect x="313.18" y="476.63" width="35.93" height="19.20" fill="#e44c3f"/>
<rect x="133.55" y="500.89" width="36.53" height="19.20" fill="#5eec7f"/>
<rect x="169.48" y="500.89" width="36.53" height="19.20" fill="#e0c833"/>
<rect x="205.40" y="500.89" width="72.45" height="19.20" fill="#e44c3f"/>
<rect x="277.25" y="500.89" width="71.85" height="19.20" fill="#95a5a6"/>
<rect x="133.55" y="525.15" width="36.53" height="19.20" fill="#5eec7f"/>
<rect x="169.48" y="525.15" width="72.45" height="19.20" fill="#e0c833"/>
<rect x="241.33" y="525.15" width="36.53" height="19.20" fill="#e44c3f"/>
<rect x="277.25" y="525.15" width="71.85" height="19.20" fill="#95a5a6"/>
<rect x="133.55" y="549.41" width="72.45" height="19.20" fill="#e0c833"/>
<rect x="205.40" y="549.41" width="143.70" height="19.20" fill="#e44c3f"/>
<rect x="133.55" y="573.67" width="72.45" height="19.20" fill="#e0c833"/>
<rect x="205.40" y="573.67" width="143.70" height="19.20" fill="#95a5a6"/>
<line x1="133.55" y1="602.20" x2="133.55" y2="394.30" stroke="#b0b0b0" stroke-width="0.6" stroke-dasharray="4.1 0.9 1.2 0.8" opacity="0.5"/>
<line x1="169.48" y1="602.20" x2="169.48" y2="394.30" stroke="#b0b0b0" stroke-width="0.6" stroke-dasharray="4.1 0.9 1.2 0.8" opacity="0.5"/>
<line x1="205.40" y1="602.20" x2="205.40" y2="394.30" stroke="#b0b0b0" stroke-width="0.6" stroke-dasharray="4.1 0.9 1.2 0.8" opacity="0.5"/>
<line x1="241.33" y1="602.20" x2="241.33" y2="394.30" stroke="#b0b0b0" stroke-width="0.6" stroke-dasharray="4.1 0.9 1.2 0.8" opacity="0.5"/>
<line x1="277.25" y1="602.20" x2="277.25" y2="394.30" stroke="#b0b0b0" stroke-width="0.6" stroke-dasharray="4.1 0.9 1.2 0.8" opacity="0.5"/>
<line x1="313.18" y1="602.20" x2="313.18" y2="394.30" stroke="#b0b0b0" stroke-width="0.6" stroke-dasharray="4.1 0.9 1.2 0.8" opacity="0.5"/>
<line x1="349.10" y1="602.20" x2="349.10" y2="394.30" stroke="#b0b0b0" stroke-width="0.6" stroke-dasharray="4.1 0.9 1.2 0.8" opacity="0.5"/>
<line x1="133.55" y1="413.45" x2="349.10" y2="413.45" stroke="#b0b0b0" stroke-width="0.6" stroke-dasharray="4.1 0.9 1.2 0.8" opacity="0.5"/>
<line x1="133.55" y1="437.71" x2="349.10" y2="437.71" stroke="#b0b0b0" stroke-width="0.6" stroke-dasharray="4.1 0.9 1.2 0.8" opacity="0.5"/>
<line x1="133.55" y1="461.97" x2="349.10" y2="461.97" stroke="#b0b0b0" stroke-width="0.6" stroke-dasharray="4.1 0.9 1.2 0.8" opacity="0.5"/>
<line x1="133.55" y1="486.23" x2="349.10" y2="486.23" stroke="#b0b0b0" stroke-width="0.6" stroke-dasharray="4.1 0.9 1.2 0.8" opacity="0.5"/>
<line x1="133.55" y1="510.49" x2="349.10" y2="510.49" stroke="#b0b0b0" stroke-width="0.6" stroke-dasharray="4.1 0.9 1.2 0.8" opacity="0.5"/>
<line x1="133.55" y1="534.75" x2="349.10" y2="534.75" stroke="#b0b0b0" stroke-width="0.6" stroke-dasharray="4.1 0.9 1.2 0.8" opacity="0.5"/>
<line x1="133.55" y1="559.01" x2="349.10" y2="559.01" stroke="#b0b0b0" stroke-width="0.6" stroke-dasharray="4.1 0.9 1.2 0.8" opacity="0.5"/>
<line x1="133.55" y1="583.27" x2="349.10" y2="583.27" stroke="#b0b0b0" stroke-width="0.6" stroke-dasharray="4.1 0.9 1.2 0.8" opacity="0.5"/>
<line x1="133.55" y1="394.30" x2="133.55" y2="602.70" stroke="#3a3a3a" stroke-width="0.9"/>
<line x1="133.10" y1="602.20" x2="349.10" y2="602.20" stroke="#3a3a3a" stroke-width="0.9"/>
<line x1="133.55" y1="413.45" x2="136.35" y2="413.45" stroke="#3a3a3a" stroke-width="0.9"/>
<text transform="matrix(1,0.001,0,1,52.64,416.911)" font-size="8.16" stroke="#262626" stroke-width="0.12" fill="#262626" textLength="78.23" lengthAdjust="spacingAndGlyphs">Kather et al. (2017)</text>
<line x1="133.55" y1="437.71" x2="136.35" y2="437.71" stroke="#3a3a3a" stroke-width="0.9"/>
<text transform="matrix(1,0.001,0,1,1.30,441.145)" font-size="8.16" stroke="#262626" stroke-width="0.12" fill="#262626" textLength="129.55" lengthAdjust="spacingAndGlyphs">Krasteva, Iliev &amp; Tabakov (2024)</text>
<line x1="133.55" y1="461.97" x2="136.35" y2="461.97" stroke="#3a3a3a" stroke-width="0.9"/>
<text transform="matrix(1,0.001,0,1,22.81,465.416)" font-size="8.16" stroke="#262626" stroke-width="0.12" fill="#262626" textLength="108.05" lengthAdjust="spacingAndGlyphs">Aguilar-Rivera et al. (2022)</text>
<line x1="133.55" y1="486.23" x2="136.35" y2="486.23" stroke="#3a3a3a" stroke-width="0.9"/>
<text transform="matrix(1,0.001,0,1,14.27,489.672)" font-size="8.16" stroke="#262626" stroke-width="0.12" fill="#262626" textLength="116.59" lengthAdjust="spacingAndGlyphs">Martínez-Suárez et al. (2023)</text>
<line x1="133.55" y1="510.49" x2="136.35" y2="510.49" stroke="#3a3a3a" stroke-width="0.9"/>
<text transform="matrix(1,0.001,0,1,2.93,513.926)" font-size="8.16" stroke="#262626" stroke-width="0.12" fill="#262626" textLength="127.94" lengthAdjust="spacingAndGlyphs">Hinterberger &amp; Fürmrohr (2016)</text>
<line x1="133.55" y1="534.75" x2="136.35" y2="534.75" stroke="#3a3a3a" stroke-width="0.9"/>
<text transform="matrix(1,0.001,0,1,31.62,538.200)" font-size="8.16" stroke="#262626" stroke-width="0.12" fill="#262626" textLength="99.24" lengthAdjust="spacingAndGlyphs">Idrobo-Avila et al. (2021)</text>
<line x1="133.55" y1="559.01" x2="136.35" y2="559.01" stroke="#3a3a3a" stroke-width="0.9"/>
<text transform="matrix(1,0.001,0,1,0.70,562.445)" font-size="8.16" stroke="#262626" stroke-width="0.12" fill="#262626" textLength="130.15" lengthAdjust="spacingAndGlyphs">Valenzuela Ramírez et al. (2020)</text>
<line x1="133.55" y1="583.27" x2="136.35" y2="583.27" stroke="#3a3a3a" stroke-width="0.9"/>
<text transform="matrix(1,0.001,0,1,62.50,586.736)" font-size="8.16" stroke="#262626" stroke-width="0.12" fill="#262626" textLength="68.37" lengthAdjust="spacingAndGlyphs">Iliev et al. (2023)</text>
<line x1="133.55" y1="602.20" x2="133.55" y2="599.40" stroke="#3a3a3a" stroke-width="0.9"/>
<text transform="matrix(1,0.001,0,1,131.20,610.798)" font-size="8.16" stroke="#262626" stroke-width="0.12" fill="#262626" textLength="4.69" lengthAdjust="spacingAndGlyphs">0</text>
<line x1="169.48" y1="602.20" x2="169.48" y2="599.40" stroke="#3a3a3a" stroke-width="0.9"/>
<text transform="matrix(1,0.001,0,1,167.13,610.798)" font-size="8.16" stroke="#262626" stroke-width="0.12" fill="#262626" textLength="4.48" lengthAdjust="spacingAndGlyphs">1</text>
<line x1="205.40" y1="602.20" x2="205.40" y2="599.40" stroke="#3a3a3a" stroke-width="0.9"/>
<text transform="matrix(1,0.001,0,1,203.14,610.798)" font-size="8.16" stroke="#262626" stroke-width="0.12" fill="#262626" textLength="4.52" lengthAdjust="spacingAndGlyphs">2</text>
<line x1="241.33" y1="602.20" x2="241.33" y2="599.40" stroke="#3a3a3a" stroke-width="0.9"/>
<text transform="matrix(1,0.001,0,1,239.10,610.798)" font-size="8.16" stroke="#262626" stroke-width="0.12" fill="#262626" textLength="4.50" lengthAdjust="spacingAndGlyphs">3</text>
<line x1="277.25" y1="602.20" x2="277.25" y2="599.40" stroke="#3a3a3a" stroke-width="0.9"/>
<text transform="matrix(1,0.001,0,1,274.93,610.798)" font-size="8.16" stroke="#262626" stroke-width="0.12" fill="#262626" textLength="4.69" lengthAdjust="spacingAndGlyphs">4</text>
<line x1="313.18" y1="602.20" x2="313.18" y2="599.40" stroke="#3a3a3a" stroke-width="0.9"/>
<text transform="matrix(1,0.001,0,1,310.97,610.798)" font-size="8.16" stroke="#262626" stroke-width="0.12" fill="#262626" textLength="4.43" lengthAdjust="spacingAndGlyphs">5</text>
<line x1="349.10" y1="602.20" x2="349.10" y2="599.40" stroke="#3a3a3a" stroke-width="0.9"/>
<text transform="matrix(1,0.001,0,1,346.64,610.798)" font-size="8.16" stroke="#262626" stroke-width="0.12" fill="#262626" textLength="4.85" lengthAdjust="spacingAndGlyphs">6</text>
<text transform="matrix(1,0.001,0,1,159.31,386.818)" font-size="10.37" stroke="#262626" stroke-width="0.12" fill="#262626" textLength="163.83" lengthAdjust="spacingAndGlyphs">Per-study limitation composition</text>
<text transform="matrix(1,0.001,0,1,107.94,382.896)" font-size="14.69" font-weight="bold" stroke="#222" stroke-width="0.5" fill="#222" textLength="7.93" lengthAdjust="spacingAndGlyphs">c</text>
<text transform="matrix(1,0.001,0,1,199.09,622.358)" font-size="8.89" stroke="#262626" stroke-width="0.12" fill="#262626" textLength="84.42" lengthAdjust="spacingAndGlyphs">Count across L1–L6</text>
<rect x="477.90" y="477.60" width="41.25" height="123.50" fill="#5eec7f"/>
<rect x="529.48" y="403.50" width="41.25" height="197.60" fill="#e0c833"/>
<rect x="581.04" y="477.60" width="41.25" height="123.50" fill="#e44c3f"/>
<rect x="632.62" y="452.90" width="41.25" height="148.20" fill="#95a5a6"/>
<line x1="498.53" y1="601.10" x2="498.53" y2="393.62" stroke="#b0b0b0" stroke-width="0.6" stroke-dasharray="4.1 0.9 1.2 0.8" opacity="0.5"/>
<line x1="550.10" y1="601.10" x2="550.10" y2="393.62" stroke="#b0b0b0" stroke-width="0.6" stroke-dasharray="4.1 0.9 1.2 0.8" opacity="0.5"/>
<line x1="601.67" y1="601.10" x2="601.67" y2="393.62" stroke="#b0b0b0" stroke-width="0.6" stroke-dasharray="4.1 0.9 1.2 0.8" opacity="0.5"/>
<line x1="653.24" y1="601.10" x2="653.24" y2="393.62" stroke="#b0b0b0" stroke-width="0.6" stroke-dasharray="4.1 0.9 1.2 0.8" opacity="0.5"/>
<line x1="468.40" y1="601.10" x2="683.80" y2="601.10" stroke="#b0b0b0" stroke-width="0.6" stroke-dasharray="4.1 0.9 1.2 0.8" opacity="0.5"/>
<line x1="468.40" y1="576.40" x2="683.80" y2="576.40" stroke="#b0b0b0" stroke-width="0.6" stroke-dasharray="4.1 0.9 1.2 0.8" opacity="0.5"/>
<line x1="468.40" y1="551.70" x2="683.80" y2="551.70" stroke="#b0b0b0" stroke-width="0.6" stroke-dasharray="4.1 0.9 1.2 0.8" opacity="0.5"/>
<line x1="468.40" y1="527.00" x2="683.80" y2="527.00" stroke="#b0b0b0" stroke-width="0.6" stroke-dasharray="4.1 0.9 1.2 0.8" opacity="0.5"/>
<line x1="468.40" y1="502.30" x2="683.80" y2="502.30" stroke="#b0b0b0" stroke-width="0.6" stroke-dasharray="4.1 0.9 1.2 0.8" opacity="0.5"/>
<line x1="468.40" y1="477.60" x2="683.80" y2="477.60" stroke="#b0b0b0" stroke-width="0.6" stroke-dasharray="4.1 0.9 1.2 0.8" opacity="0.5"/>
<line x1="468.40" y1="452.90" x2="683.80" y2="452.90" stroke="#b0b0b0" stroke-width="0.6" stroke-dasharray="4.1 0.9 1.2 0.8" opacity="0.5"/>
<line x1="468.40" y1="428.20" x2="683.80" y2="428.20" stroke="#b0b0b0" stroke-width="0.6" stroke-dasharray="4.1 0.9 1.2 0.8" opacity="0.5"/>
<line x1="468.40" y1="403.50" x2="683.80" y2="403.50" stroke="#b0b0b0" stroke-width="0.6" stroke-dasharray="4.1 0.9 1.2 0.8" opacity="0.5"/>
<line x1="468.40" y1="393.62" x2="468.40" y2="601.60" stroke="#3a3a3a" stroke-width="0.9"/>
<line x1="467.95" y1="601.10" x2="683.80" y2="601.10" stroke="#3a3a3a" stroke-width="0.9"/>
<line x1="468.40" y1="601.10" x2="471.20" y2="601.10" stroke="#3a3a3a" stroke-width="0.9"/>
<text transform="matrix(1,0.001,0,1,460.64,603.998)" font-size="8.16" stroke="#262626" stroke-width="0.12" fill="#262626" textLength="4.69" lengthAdjust="spacingAndGlyphs">0</text>
<line x1="468.40" y1="576.40" x2="471.20" y2="576.40" stroke="#3a3a3a" stroke-width="0.9"/>
<text transform="matrix(1,0.001,0,1,460.89,579.298)" font-size="8.16" stroke="#262626" stroke-width="0.12" fill="#262626" textLength="4.52" lengthAdjust="spacingAndGlyphs">2</text>
<line x1="468.40" y1="551.70" x2="471.20" y2="551.70" stroke="#3a3a3a" stroke-width="0.9"/>
<text transform="matrix(1,0.001,0,1,460.56,554.598)" font-size="8.16" stroke="#262626" stroke-width="0.12" fill="#262626" textLength="4.69" lengthAdjust="spacingAndGlyphs">4</text>
<line x1="468.40" y1="527.00" x2="471.20" y2="527.00" stroke="#3a3a3a" stroke-width="0.9"/>
<text transform="matrix(1,0.001,0,1,460.53,529.898)" font-size="8.16" stroke="#262626" stroke-width="0.12" fill="#262626" textLength="4.85" lengthAdjust="spacingAndGlyphs">6</text>
<line x1="468.40" y1="502.30" x2="471.20" y2="502.30" stroke="#3a3a3a" stroke-width="0.9"/>
<text transform="matrix(1,0.001,0,1,460.63,505.198)" font-size="8.16" stroke="#262626" stroke-width="0.12" fill="#262626" textLength="4.74" lengthAdjust="spacingAndGlyphs">8</text>
<line x1="468.40" y1="477.60" x2="471.20" y2="477.60" stroke="#3a3a3a" stroke-width="0.9"/>
<text transform="matrix(1,0.001,0,1,455.56,480.495)" font-size="8.16" stroke="#262626" stroke-width="0.12" fill="#262626" textLength="9.78" lengthAdjust="spacingAndGlyphs">10</text>
<line x1="468.40" y1="452.90" x2="471.20" y2="452.90" stroke="#3a3a3a" stroke-width="0.9"/>
<text transform="matrix(1,0.001,0,1,455.84,455.795)" font-size="8.16" stroke="#262626" stroke-width="0.12" fill="#262626" textLength="9.59" lengthAdjust="spacingAndGlyphs">12</text>
<line x1="468.40" y1="428.20" x2="471.20" y2="428.20" stroke="#3a3a3a" stroke-width="0.9"/>
<text transform="matrix(1,0.001,0,1,455.48,431.095)" font-size="8.16" stroke="#262626" stroke-width="0.12" fill="#262626" textLength="9.78" lengthAdjust="spacingAndGlyphs">14</text>
<line x1="468.40" y1="403.50" x2="471.20" y2="403.50" stroke="#3a3a3a" stroke-width="0.9"/>
<text transform="matrix(1,0.001,0,1,455.53,406.395)" font-size="8.16" stroke="#262626" stroke-width="0.12" fill="#262626" textLength="9.86" lengthAdjust="spacingAndGlyphs">16</text>
<line x1="498.53" y1="601.10" x2="498.53" y2="598.30" stroke="#3a3a3a" stroke-width="0.9"/>
<line x1="550.10" y1="601.10" x2="550.10" y2="598.30" stroke="#3a3a3a" stroke-width="0.9"/>
<line x1="601.67" y1="601.10" x2="601.67" y2="598.30" stroke="#3a3a3a" stroke-width="0.9"/>
<line x1="653.24" y1="601.10" x2="653.24" y2="598.30" stroke="#3a3a3a" stroke-width="0.9"/>
<text transform="matrix(1,0.001,0,1,513.63,385.838)" font-size="10.37" stroke="#262626" stroke-width="0.12" fill="#262626" textLength="124.80" lengthAdjust="spacingAndGlyphs">Overall limitation counts</text>
<text transform="matrix(1,0.001,0,1,442.21,381.595)" font-size="14.69" font-weight="bold" stroke="#222" stroke-width="0.5" fill="#222" textLength="10.24" lengthAdjust="spacingAndGlyphs">d</text>
<text transform="translate(450.70,520.90) rotate(-90) matrix(1,0.001,0,1,0,-0.023)" x="-0.21" y="0" font-size="8.57" stroke="#262626" stroke-width="0.12" fill="#262626" textLength="46.09" lengthAdjust="spacingAndGlyphs">Total count</text>
<rect x="330.30" y="652.30" width="19.30" height="6.50" fill="#5eec7f"/>
<text transform="matrix(1,0.001,0,1,356.99,659.091)" font-size="9.69" stroke="#262626" stroke-width="0.12" fill="#262626" textLength="18.17" lengthAdjust="spacingAndGlyphs">Low</text>
<rect x="330.30" y="666.90" width="19.30" height="6.50" fill="#e0c833"/>
<text transform="matrix(1,0.001,0,1,356.92,673.677)" font-size="9.69" stroke="#262626" stroke-width="0.12" fill="#262626" textLength="45.09" lengthAdjust="spacingAndGlyphs">Moderate</text>
<rect x="420.90" y="652.30" width="19.30" height="6.50" fill="#e44c3f"/>
<text transform="matrix(1,0.001,0,1,447.93,659.083)" font-size="9.69" stroke="#262626" stroke-width="0.12" fill="#262626" textLength="34.95" lengthAdjust="spacingAndGlyphs">Serious</text>
<rect x="420.90" y="666.90" width="19.30" height="6.50" fill="#95a5a6"/>
<text transform="matrix(1,0.001,0,1,447.58,673.682)" font-size="9.69" stroke="#262626" stroke-width="0.12" fill="#262626" textLength="36.58" lengthAdjust="spacingAndGlyphs">Unclear</text>
<text transform="translate(483.37,613.72) rotate(-15)" x="-0.68" y="0" font-size="8.16" fill="#262626" textLength="15.30" lengthAdjust="spacingAndGlyphs">Low</text>
<text transform="translate(513.49,619.71) rotate(-15)" x="-0.74" y="0" font-size="8.16" fill="#262626" textLength="37.97" lengthAdjust="spacingAndGlyphs">Moderate</text>
<text transform="translate(572.89,617.61) rotate(-15)" x="-0.39" y="0" font-size="8.16" fill="#262626" textLength="29.43" lengthAdjust="spacingAndGlyphs">Serious</text>
<text transform="translate(623.27,617.93) rotate(-15)" x="-0.69" y="0" font-size="8.16" fill="#262626" textLength="30.80" lengthAdjust="spacingAndGlyphs">Unclear</text>
</svg></body></html>
